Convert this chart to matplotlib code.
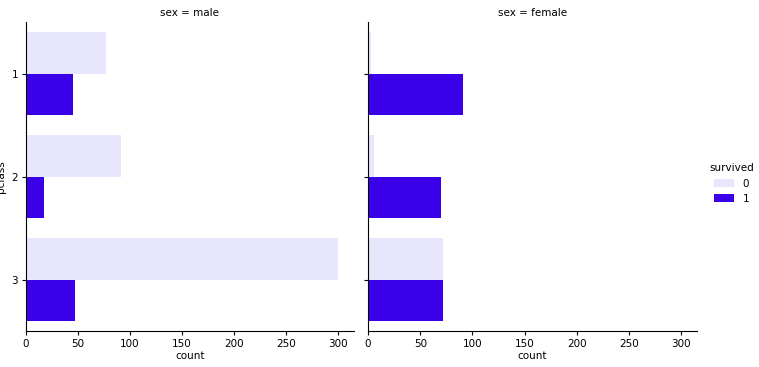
import matplotlib
matplotlib.use("Agg")
import matplotlib.pyplot as plt
import numpy as np
from matplotlib.patches import Patch

# Titanic passenger counts by class, split by sex and survival
pclass = ["1", "2", "3"]
sexes = ["male", "female"]
died = {"male": [77, 91, 300], "female": [3, 6, 72]}
survived = {"male": [45, 17, 47], "female": [91, 70, 72]}
hue_labels = ["0", "1"]

colors = ["#e8e6fc", "#3a00e8"]

fig = plt.figure(figsize=(7.59, 3.67), dpi=100)
ax1 = fig.add_axes([0.034, 0.098, 0.432, 0.842])
ax2 = fig.add_axes([0.485, 0.098, 0.433, 0.842], sharey=ax1, sharex=ax1)

y = np.arange(len(pclass))
h = 0.4
for ax, sex in zip([ax1, ax2], sexes):
    ax.barh(y - h / 2, died[sex], height=h, color=colors[0])
    ax.barh(y + h / 2, survived[sex], height=h, color=colors[1])
    ax.set_title(f"sex = {sex}", fontsize=7.5, pad=4)
    ax.set_xlabel("count", fontsize=7.5, labelpad=1.5)
    ax.spines["top"].set_visible(False)
    ax.spines["right"].set_visible(False)
    ax.tick_params(labelsize=7.5, length=3, pad=2.5)

ax1.set_ylim(2.5, -0.5)
ax1.set_yticks(y)
ax1.set_yticklabels(pclass)
ax1.set_xlim(0, 315)
ax1.set_xticks([0, 50, 100, 150, 200, 250, 300])
ax1.set_ylabel("pclass", fontsize=7.5)
ax1.yaxis.set_label_coords(-0.06, 0.5)
plt.setp(ax2.get_yticklabels(), visible=False)

handles = [Patch(facecolor=c, label=l) for c, l in zip(colors, hue_labels)]
fig.legend(handles=handles, title="survived", loc="center left",
           bbox_to_anchor=(0.922, 0.5), frameon=False, fontsize=7.5,
           title_fontsize=7.5, handlelength=2, handleheight=0.7)

fig.savefig("out.png", dpi=100)
